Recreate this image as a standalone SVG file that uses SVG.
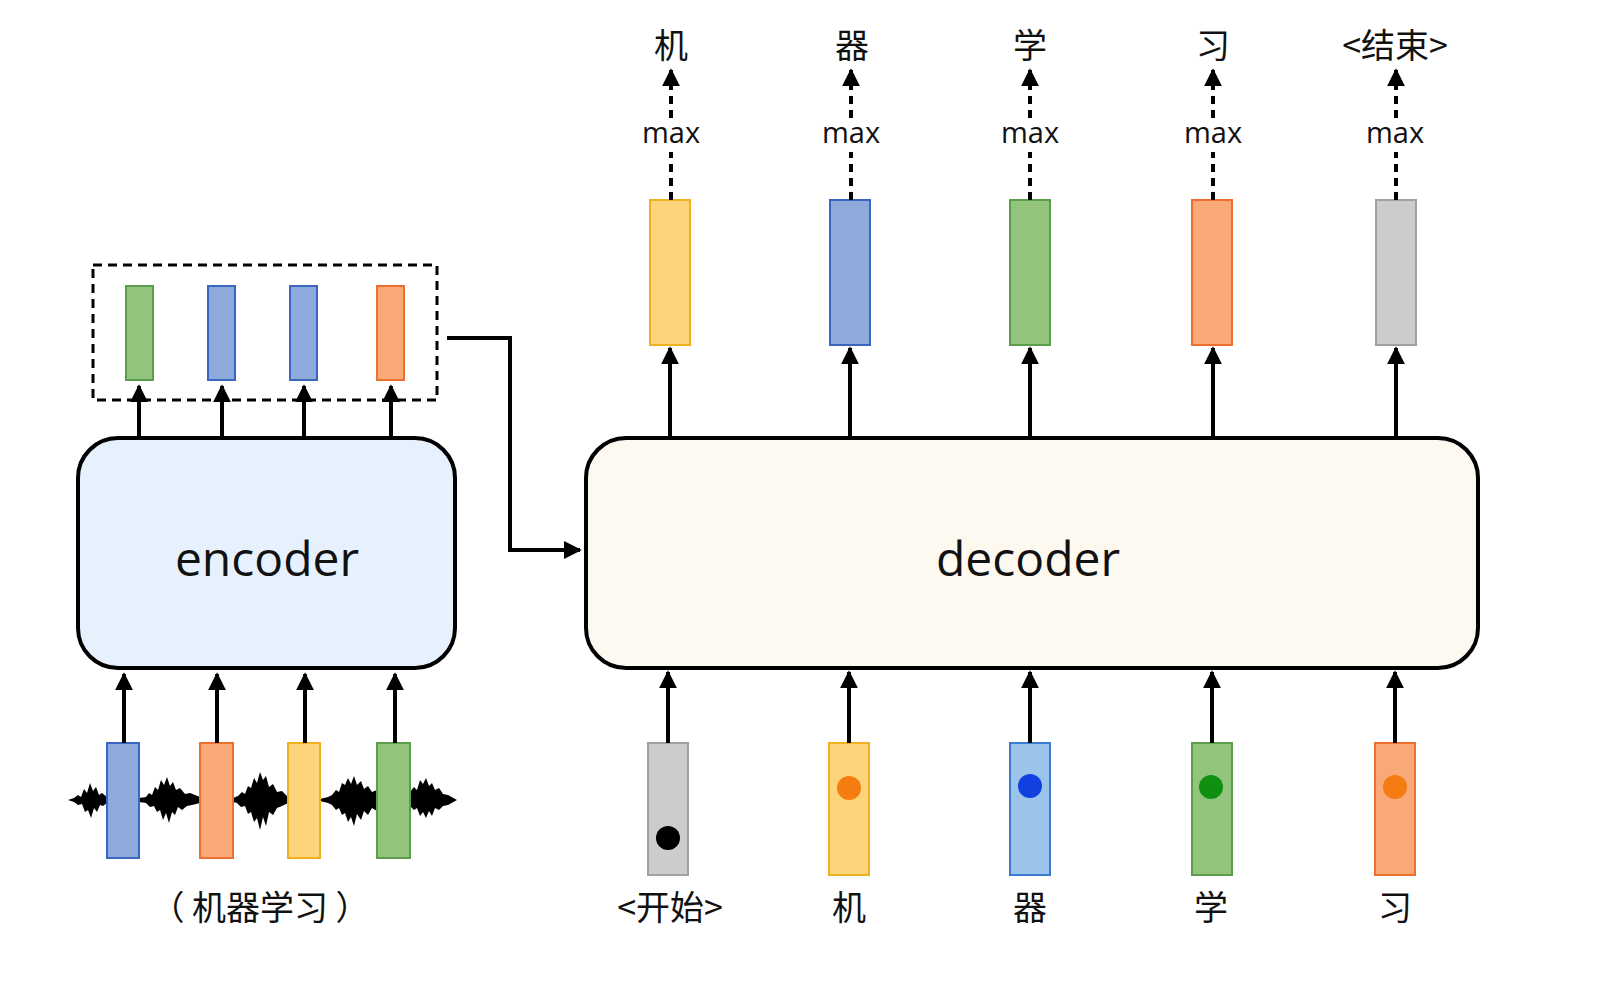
<svg xmlns="http://www.w3.org/2000/svg" width="1598" height="984" viewBox="0 0 1598 984">
<defs>
<marker id="ah" viewBox="0 0 10 10" refX="9" refY="5" markerWidth="4.5" markerHeight="4.5" orient="auto"><path d="M0,0 L10,5 L0,10 z" fill="#000"/></marker>
<style>
.ln{stroke:#000;stroke-width:4;fill:none;marker-end:url(#ah)}
.dl{stroke:#000;stroke-width:4;fill:none;stroke-dasharray:8,6;marker-end:url(#ah)}
.dd{stroke:#000;stroke-width:4;fill:none;stroke-dasharray:8,6}
.y{fill:#fcd57a;stroke:#f0b020;stroke-width:2}
.b{fill:#8eaadc;stroke:#3a66c0;stroke-width:2}
.lb{fill:#9cc3ea;stroke:#3a7cd0;stroke-width:2}
.g{fill:#93c47d;stroke:#5a9e4a;stroke-width:2}
.o{fill:#f9a877;stroke:#ed7030;stroke-width:2}
.gr{fill:#cccccc;stroke:#a0a0a0;stroke-width:2}
text{font-family:"Open Sans","Noto Sans CJK SC",sans-serif;fill:#111;text-anchor:middle}
.cj{font-family:"Noto Sans CJK SC",sans-serif;font-size:34px}
.mx{font-size:29px}
.wv{fill:#000}
</style>
</defs>
<rect width="1598" height="984" fill="#fff"/>
<g id="encoder"><rect x="78" y="438" width="377" height="230" rx="40" fill="#e6f1fd" stroke="#000" stroke-width="4"/><text x="267" y="576" font-size="48" font-weight="500">encoder</text></g>
<g id="decoder"><rect x="586" y="438" width="892" height="230" rx="40" fill="#fdf8f0" stroke="#000" stroke-width="4"/><text x="1028" y="576" font-size="48" font-weight="500">decoder</text></g>
<g id="enc-out">
<rect x="93" y="265" width="344" height="135" fill="none" stroke="#000" stroke-width="3" stroke-dasharray="9,6"/>
<rect class="g" x="126" y="286" width="27" height="94"/><rect class="b" x="208" y="286" width="27" height="94"/><rect class="b" x="290" y="286" width="27" height="94"/><rect class="o" x="377" y="286" width="27" height="94"/>
</g>
<g id="wave" class="wv">
<polygon points="68,800 74,798 78,795 81,797 84,789 87,793 90,783 93,791 96,787 99,795 102,793 107,797 107,803 103,806 100,805 97,812 94,808 91,818 88,810 85,812 82,804 78,805 74,802"/>
<polygon points="139,798 146,797 149,793 152,795 155,787 158,790 161,780 164,785 167,777 170,786 173,782 176,790 180,788 185,794 190,793 200,797 200,803 192,805 187,806 182,810 178,807 175,815 172,812 169,823 166,813 163,820 160,810 157,812 154,806 150,807 146,803 139,802"/>
<polygon points="233,798 238,796 242,792 245,794 248,786 251,788 254,778 257,783 260,772 263,780 266,776 269,787 273,784 277,792 282,791 288,797 288,803 282,806 277,808 273,815 269,812 266,826 263,817 260,830 257,818 254,822 251,812 248,814 245,806 241,807 237,803 233,802"/>
<polygon points="320,799 328,797 332,795 336,790 339,792 342,783 345,785 348,778 351,784 354,776 357,785 361,781 364,789 368,786 372,792 377,790 377,811 372,808 368,815 364,811 361,820 357,814 354,826 351,817 348,822 345,813 342,815 339,808 336,810 332,805 328,803 320,801"/>
<polygon points="410,792 414,787 417,790 420,780 423,784 426,778 429,786 432,783 435,790 439,788 443,794 448,795 457,800 448,805 443,806 439,810 435,808 432,816 429,811 426,818 423,812 420,816 417,808 414,810 410,806"/>
</g>
<g id="enc-in">
<rect class="b" x="107" y="743" width="32" height="115"/><rect class="o" x="200" y="743" width="33" height="115"/><rect class="y" x="288" y="743" width="32" height="115"/><rect class="g" x="377" y="743" width="33" height="115"/>
<text class="cj" x="260" y="920">（ 机器学习 ）</text>
</g>
<g id="dec-out">
<rect class="y" x="650" y="200" width="40" height="145"/><rect class="b" x="830" y="200" width="40" height="145"/><rect class="g" x="1010" y="200" width="40" height="145"/><rect class="o" x="1192" y="200" width="40" height="145"/><rect class="gr" x="1376" y="200" width="40" height="145"/>
<text class="mx" x="671" y="143">max</text><text class="mx" x="851" y="143">max</text><text class="mx" x="1030" y="143">max</text><text class="mx" x="1213" y="143">max</text><text class="mx" x="1395" y="143">max</text>
<text class="cj" x="671" y="58" font-size="36">机</text><text class="cj" x="852" y="58" font-size="36">器</text><text class="cj" x="1030" y="58" font-size="36">学</text><text class="cj" x="1213" y="58" font-size="36">习</text><text class="cj" x="1395" y="58" font-size="36">&lt;结束&gt;</text>
</g>
<g id="dec-in">
<rect class="gr" x="648" y="743" width="40" height="132"/><rect class="y" x="829" y="743" width="40" height="132"/><rect class="lb" x="1010" y="743" width="40" height="132"/><rect class="g" x="1192" y="743" width="40" height="132"/><rect class="o" x="1375" y="743" width="40" height="132"/>
<circle cx="668" cy="838" r="12" fill="#000"/><circle cx="849" cy="788" r="12" fill="#f57c10"/><circle cx="1030" cy="786" r="12" fill="#1040e0"/><circle cx="1211" cy="787" r="12" fill="#109010"/><circle cx="1395" cy="787" r="12" fill="#f57c10"/>
<text class="cj" x="670" y="920">&lt;开始&gt;</text><text class="cj" x="849" y="920">机</text><text class="cj" x="1030" y="920">器</text><text class="cj" x="1211" y="920">学</text><text class="cj" x="1395" y="920">习</text>
</g>
<g id="connectors">
<path class="ln" d="M139,438V386"/><path class="ln" d="M222,438V386"/><path class="ln" d="M304,438V386"/><path class="ln" d="M391,438V386"/>
<path class="ln" d="M124,743V674"/><path class="ln" d="M217,743V674"/><path class="ln" d="M305,743V674"/><path class="ln" d="M395,743V674"/>
<path class="ln" d="M447,338H510V550H580"/>
<path class="ln" d="M670,438V348"/><path class="ln" d="M850,438V348"/><path class="ln" d="M1030,438V348"/><path class="ln" d="M1213,438V348"/><path class="ln" d="M1396,438V348"/>
<path class="ln" d="M668,743V672"/><path class="ln" d="M849,743V672"/><path class="ln" d="M1030,743V672"/><path class="ln" d="M1212,743V672"/><path class="ln" d="M1395,743V672"/>
<g id="dashes">
<path class="dd" d="M671,200V152"/><path class="dd" d="M851,200V152"/><path class="dd" d="M1030,200V152"/><path class="dd" d="M1213,200V152"/><path class="dd" d="M1396,200V152"/>
<path class="dl" d="M671,118V70"/><path class="dl" d="M851,118V70"/><path class="dl" d="M1030,118V70"/><path class="dl" d="M1213,118V70"/><path class="dl" d="M1396,118V70"/>
</g>
</g>
</svg>
